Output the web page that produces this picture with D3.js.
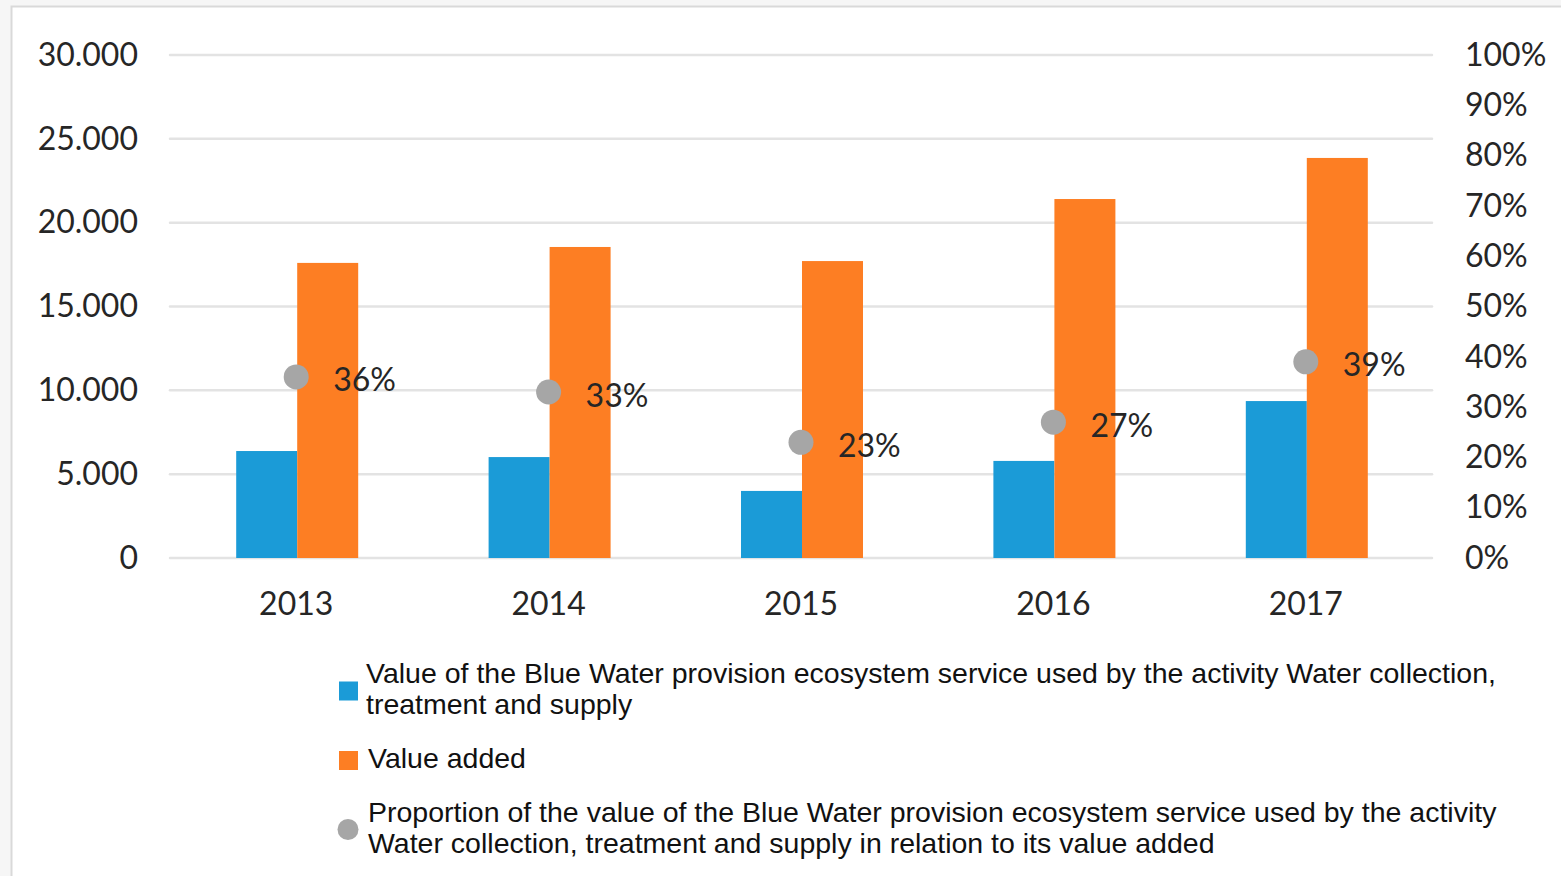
<!DOCTYPE html>
<html>
<head>
<meta charset="utf-8">
<script src="https://cdn.jsdelivr.net/npm/d3@7"></script>
<style>
  html, body { margin: 0; padding: 0; background: #f6f6f6; }
  svg { display: block; }
</style>
</head>
<body>
<svg id="chart" width="1561" height="876"></svg>
<script>
// Years on the category axis
const years = ["2013", "2014", "2015", "2016", "2017"];
// Value of the Blue Water provision ecosystem service (left axis)
const blueWaterValue = [6380, 6020, 4000, 5790, 9360];
// Value added of the activity (left axis)
const valueAdded = [17600, 18550, 17710, 21410, 23860];
// Proportion of service value in relation to value added (right axis)
const proportion = [0.36, 0.33, 0.23, 0.27, 0.39];
// Axis ticks
const leftTicks = [0, 5000, 10000, 15000, 20000, 25000, 30000];
const rightTicks = [0, 0.1, 0.2, 0.3, 0.4, 0.5, 0.6, 0.7, 0.8, 0.9, 1.0];
// Legend entries
const legendItems = [
  { kind: "rect", color: "#1b9bd7", lines: ["Value of the Blue Water provision ecosystem service used by the activity Water collection,", "treatment and supply"] },
  { kind: "rect", color: "#fd7e23", lines: ["Value added"] },
  { kind: "circle", color: "#a6a6a6", lines: ["Proportion of the value of the Blue Water provision ecosystem service used by the activity", "Water collection, treatment and supply in relation to its value added"] }
];

const svg = d3.select("#chart");
const W = 1561, H = 876;

// Panel frame
svg.append("rect").attr("x", 11.5).attr("y", 6.5).attr("width", W).attr("height", H)
  .attr("fill", "#ffffff").attr("stroke", "#d9d9d9").attr("stroke-width", 2);

const plot = { left: 170, right: 1432, top: 55, bottom: 558 };

const x = d3.scaleBand().domain(years).range([plot.left, plot.right]).padding(0);
const inner = d3.scaleBand().domain(["blue", "orange"]).range([-60, 62]).padding(0);
const y = d3.scaleLinear().domain([0, 30000]).range([plot.bottom, plot.top]);
const yR = d3.scaleLinear().domain([0, 1]).range([plot.bottom, plot.top]);

const loc = d3.formatLocale({ decimal: ",", thousands: ".", grouping: [3], currency: ["", "€"] });
const fmtThousands = loc.format(",.0f");
const fmtPct = d3.format(".0%");

const axisFont = "Lato, 'Open Sans', sans-serif";
const textColor = "#262626";

// Gridlines
svg.append("g").selectAll("line").data(leftTicks).join("line")
  .attr("x1", plot.left).attr("x2", plot.right)
  .attr("y1", d => y(d)).attr("y2", d => y(d))
  .attr("stroke", "#e3e3e3").attr("stroke-width", 2.5).attr("stroke-linecap", "round");

// Left axis
const gL = svg.append("g").attr("transform", `translate(${plot.left},0)`)
  .call(d3.axisLeft(y).tickValues(leftTicks).tickFormat(fmtThousands).tickSize(0).tickPadding(32));
gL.select(".domain").remove();
gL.selectAll("text").attr("font-family", axisFont).attr("font-size", 32).attr("fill", textColor);

// Right axis
const gR = svg.append("g").attr("transform", `translate(${plot.right},0)`)
  .call(d3.axisRight(yR).tickValues(rightTicks).tickFormat(fmtPct).tickSize(0).tickPadding(33));
gR.select(".domain").remove();
gR.selectAll("text").attr("font-family", axisFont).attr("font-size", 32).attr("fill", textColor);

// Bottom axis (years)
const gB = svg.append("g").attr("transform", `translate(0,${plot.bottom})`)
  .call(d3.axisBottom(x).tickSize(0).tickPadding(34));
gB.select(".domain").remove();
gB.selectAll("text").attr("font-family", axisFont).attr("font-size", 32).attr("fill", textColor);

// Bars
const rows = years.map((yr, i) => ({ yr, blue: blueWaterValue[i], orange: valueAdded[i], p: proportion[i] }));
const colors = { blue: "#1b9bd7", orange: "#fd7e23" };

const groups = svg.append("g").selectAll("g").data(rows).join("g")
  .attr("transform", d => `translate(${x(d.yr) + x.bandwidth() / 2},0)`);

groups.selectAll("rect").data(d => ["blue", "orange"].map(k => ({ k, v: d[k] }))).join("rect")
  .attr("x", d => inner(d.k))
  .attr("width", inner.bandwidth())
  .attr("y", d => y(d.v))
  .attr("height", d => y(0) - y(d.v))
  .attr("fill", d => colors[d.k]);

// Proportion markers
groups.append("circle")
  .attr("cx", 0).attr("cy", d => yR(d.p)).attr("r", 12.5)
  .attr("fill", "#a6a6a6");

groups.append("text")
  .attr("x", 37).attr("y", d => yR(d.p) + 2)
  .attr("dominant-baseline", "central")
  .attr("font-family", axisFont).attr("font-size", 32).attr("fill", textColor)
  .text(d => fmtPct(d.p));

// Legend
const legendFont = "'Liberation Sans', Arial, sans-serif";
const legendY = [683, 768, 822];
const lineH = 31;
const lg = svg.append("g");
legendItems.forEach((item, i) => {
  const base = legendY[i];
  const nLines = item.lines.length;
  const midY = base - 8 + (nLines - 1) * lineH / 2;
  if (item.kind === "rect") {
    lg.append("rect").attr("x", 339).attr("y", midY - 9).attr("width", 19).attr("height", 19).attr("fill", item.color);
  } else {
    lg.append("circle").attr("cx", 348).attr("cy", midY).attr("r", 10.5).attr("fill", item.color);
  }
  const t = lg.append("text").attr("font-family", legendFont).attr("font-size", 28.5).attr("fill", "#111");
  item.lines.forEach((ln, j) => {
    t.append("tspan").attr("x", i === 0 ? 366 : 368).attr("y", base + j * lineH).text(ln);
  });
});
</script>
</body>
</html>
